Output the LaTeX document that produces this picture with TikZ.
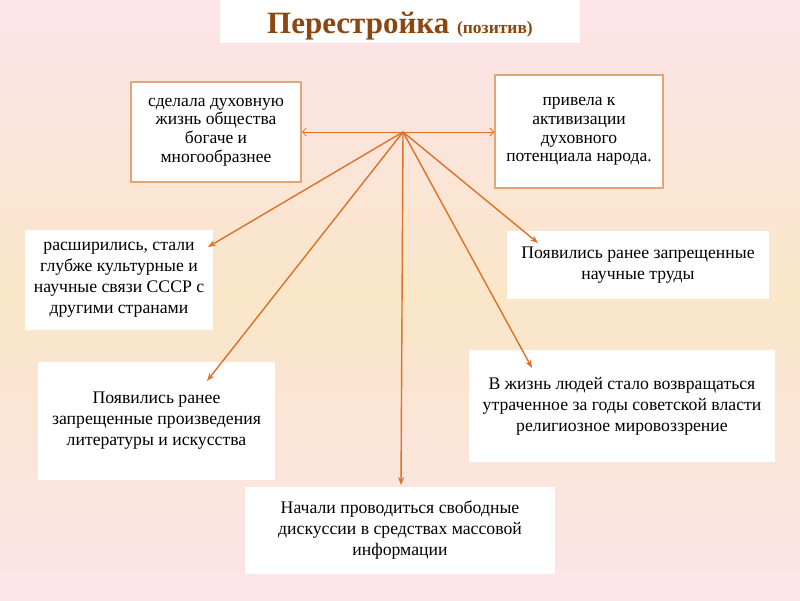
\documentclass[tikz,border=0pt]{standalone}
\usepackage{fontspec}
\setmainfont{Liberation Serif}
\usetikzlibrary{arrows.meta}
\definecolor{arr}{RGB}{222,112,40}
\definecolor{bord}{RGB}{226,165,115}
\definecolor{ttl}{RGB}{140,70,15}
\definecolor{bgpink}{RGB}{252,228,234}
\definecolor{bgpeach}{RGB}{250,230,200}
\tikzset{
  box/.style={fill=white, draw=none, align=center, inner sep=0pt,
    font=\fontsize{17.7}{21}\selectfont},
  topbox/.style={box, draw=bord, line width=1.5pt,
    font=\fontsize{17.5}{18.8}\selectfont},
  ray/.style={draw=arr, line width=1.4pt, -{Stealth[length=8pt,width=6pt]}},
  side/.style={draw=arr, line width=0.8pt, -{Straight Barb[length=4pt,width=8pt]}}
}
\begin{document}
\begin{tikzpicture}[x=1pt,y=-1pt]
\useasboundingbox (0,0) rectangle (800,600);
\shade[top color=bgpink, bottom color=bgpink, middle color=bgpeach] (0,0) rectangle (800,600);

\node[box, minimum width=360pt, minimum height=43pt] (title) at (400,21.5) {};
\node[anchor=base, inner sep=0pt] (ttext) at (400,33)
  {\textcolor{ttl}{\bfseries\fontsize{31}{34}\selectfont Перестройка \fontsize{17.5}{18}\selectfont(позитив)}};

\node[topbox, minimum width=170pt, minimum height=100pt] (b1) at (216,132)
  {сделала духовную\\жизнь общества\\богаче и\\многообразнее};
\node[topbox, minimum width=168pt, minimum height=113pt] (b2) at (579,131.5)
  {привела к\\активизации\\духовного\\потенциала народа.};

\node[box, minimum width=188pt, minimum height=100pt] (b3) at (119,280)
  {расширились, стали\\глубже культурные и\\научные связи СССР с\\другими странами};
\node[box, minimum width=262pt, minimum height=68pt] (b4) at (638,265)
  {Появились ранее запрещенные\\научные труды};
\node[box, minimum width=237pt, minimum height=118pt] (b5) at (156.5,421)
  {Появились ранее\\запрещенные произведения\\литературы и искусства};
\node[box, minimum width=306pt, minimum height=112pt] (b6) at (622,406)
  {В жизнь людей стало возвращаться\\утраченное за годы советской власти\\религиозное мировоззрение};
\node[box, minimum width=310pt, minimum height=87pt] (b7) at (400,530.5)
  {Начали проводиться свободные\\дискуссии в средствах массовой\\информации};

\coordinate (c) at (403,132);
\coordinate (t3) at (208,247);
\coordinate (t4) at (538,243);
\coordinate (t5) at (207,381);
\coordinate (t6) at (532,368);
\coordinate (t7) at (401,485);

\draw[side] (c) -- (b1.east);
\draw[side] (c) -- (b2.west |- c);
\draw[ray] (c) -- (t3);
\draw[ray] (c) -- (t4);
\draw[ray] (c) -- (t5);
\draw[ray] (c) -- (t6);
\draw[ray] (c) -- (t7);
\end{tikzpicture}
\end{document}
